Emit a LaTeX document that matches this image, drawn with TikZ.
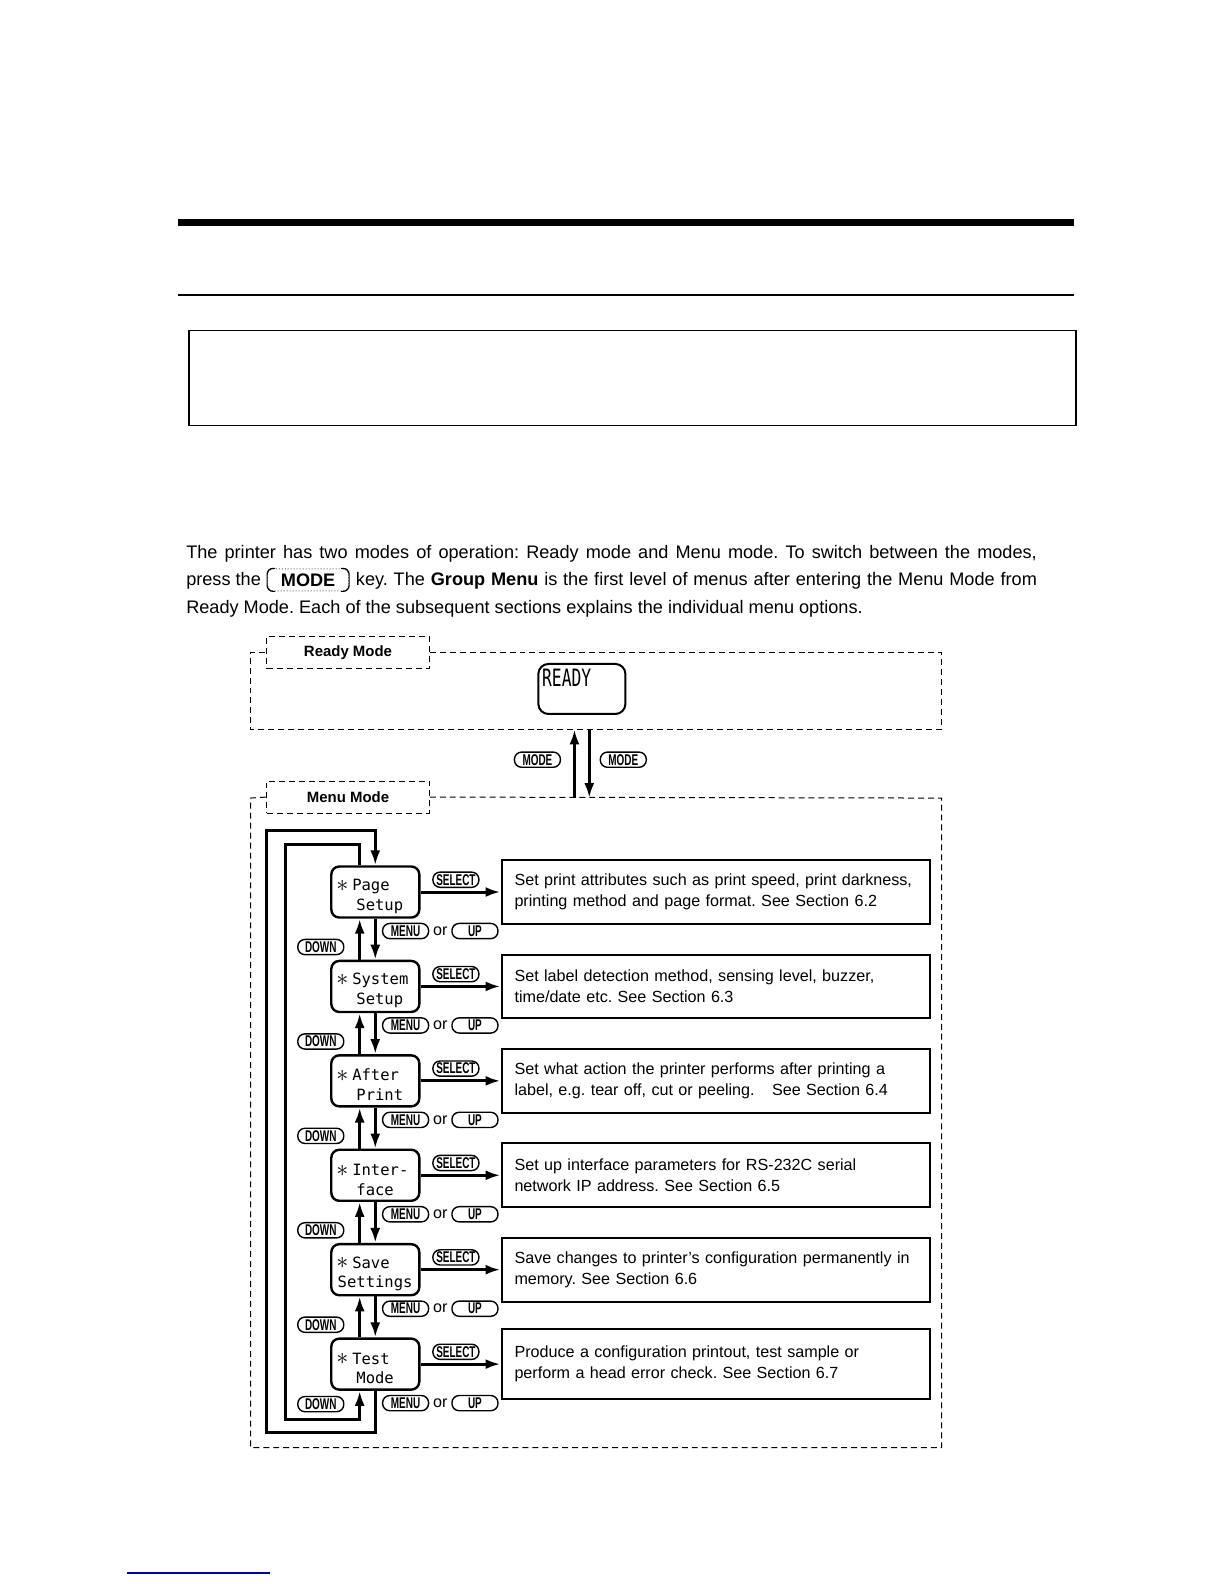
\documentclass[tikz,border=0pt]{standalone}
\usepackage{graphicx}
\usepackage{fontspec}
\setmainfont{Liberation Sans}
\setmonofont{DejaVu Sans Mono}
\usetikzlibrary{positioning, arrows.meta}
\tikzset{
	x=0.505bp, y=-0.505bp, % unidades de pixel
	>={Latex[length=7.5bp,width=5bp]}, % puntas de flecha llenas
	flecha/.style={->, line width=1.5bp}, % flechas gruesas
	lazo/.style={line width=1.5bp}, % lineas de retorno
	marco/.style={densely dashed, line width=0.5bp}, % marcos de modo
	pestana/.style={marco, draw, minimum width=81.3bp, minimum height=16bp, font=\fontsize{7.5}{9}\selectfont\bfseries}, % titulo del modo
	menu/.style={draw, line width=1.2bp, rounded corners=4bp, text width=37.6bp, inner xsep=3.2bp, inner ysep=0pt, minimum height=25.5bp, align=left, font=\fontsize{7.8}{10}\selectfont\ttfamily}, % pantalla del menu
	desc/.style={draw, line width=1bp, text width=201bp, inner xsep=6.5bp, minimum height=31.8bp, align=left, font=\fontsize{8.1}{10.6}\selectfont}, % explicacion
	tecla/.style={draw, rectangle, rounded corners=3.6bp, line width=0.7bp, minimum width=23bp, minimum height=7.6bp, inner sep=0.3bp, font=\fontsize{7.8}{7.8}\selectfont\bfseries}, % tecla
	otexto/.style={inner sep=1.7bp, font=\fontsize{8.1}{9}\selectfont}, % texto entre teclas
	linea/.style={anchor=base west, inner sep=0pt, font=\parrafo} % renglon del parrafo
}
\newcommand{\tecl}[1]{\scalebox{0.64}[1]{#1}}
\newcommand{\estrella}{\rule{0pt}{10bp}\makebox[4.696bp]{\fontsize{13}{13}\selectfont\raisebox{-0.4bp}{$\ast$}}}
\newcommand{\parrafo}{\fontsize{9.1}{13.6}\selectfont}

\begin{document}
\frenchspacing
\begin{tikzpicture}[node distance=47.2bp]
	\useasboundingbox (0,0) rectangle (1212,1568);
	
	\draw[line width=3.5bp] (176,220) -- (1063,220);
	\draw[line width=1bp] (176,292) -- (1063,292);
	\draw[line width=0.8bp] (187,327) rectangle (1065,421);
	
	\node[linea] (linea1) at (184,553) {\hbox to 425.2bp{The printer has two modes of operation: Ready mode and Menu mode. To switch between the modes,}};
	\node[linea] (linea2) at (184,580) {press the};
	\node[draw=black!60, densely dotted, line width=0.5bp, rounded corners=3bp, minimum width=40.5bp, minimum height=11bp, inner sep=0pt, font=\parrafo\bfseries] (teclamodo) at (305,574) {MODE};
	\draw[line width=0.6bp, rounded corners=3bp] ([xshift=4bp]teclamodo.north west) -- (teclamodo.north west) -- (teclamodo.south west) -- ([xshift=4bp]teclamodo.south west);
	\draw[line width=0.6bp, rounded corners=3bp] ([xshift=-4bp]teclamodo.north east) -- (teclamodo.north east) -- (teclamodo.south east) -- ([xshift=-4bp]teclamodo.south east);
	\node[linea] (linea2b) at (352,580) {\hbox to 340.4bp{key. The \textbf{Group Menu} is the first level of menus after entering the Menu Mode from}};
	\node[linea] (linea3) at (184,607) {Ready Mode. Each of the subsequent sections explains the individual menu options.};
	
	\node[pestana] (ready) at (344.5,646) {Ready Mode};
	\draw[marco] (ready.east) -- (932,646) -- (932,722) -- (248,722) -- (248,646) -- (ready.west);
	\node[draw, line width=1bp, rounded corners=5bp, minimum width=43.5bp, minimum height=25bp] (lcd) at (576,682) {};
	\node[anchor=north west, inner xsep=2.2bp, inner ysep=2.6bp, font=\fontsize{12}{12}\selectfont\ttfamily] (lcdtexto) at (lcd.north west) {\scalebox{0.68}[1]{READY}};
	\coordinate (readyfondo) at (576,722);
	\coordinate (menutope) at (576,790);
	\node[tecla] (modeizq) at (532,752) {\tecl{MODE}};
	\node[tecla] (modeder) at (617,752) {\tecl{MODE}};
	
	\node[pestana] (menumode) at (344.5,789) {Menu Mode};
	\draw[marco] (menumode.east) -- (932,790) -- (932,1433) -- (248,1433) -- (248,790) -- (menumode.west);
	
	\node[menu] (page) at (371.5,883) {\estrella\ Page\\\hphantom{**}Setup};
	\node[menu, below of=page] (system) {\estrella\ System\\\hphantom{**}Setup};
	\node[menu, below of=system] (after) {\estrella\ After\\\hphantom{**}Print};
	\node[menu, below of=after] (inter) {\estrella\ Inter-\\\hphantom{**}face};
	\node[menu, below of=inter] (save) {\estrella\ Save\\Settings};
	\node[menu, below of=save] (test) {\estrella\ Test\\\hphantom{**}Mode};
	
	\node[desc, right=40bp of page] (dpage) {Set print attributes such as print speed, print darkness,\\printing method and page format. See Section 6.2};
	\node[desc, right=40bp of system] (dsystem) {Set label detection method, sensing level, buzzer,\\time/date etc. See Section 6.3};
	\node[desc, right=40bp of after] (dafter) {Set what action the printer performs after printing a\\label, e.g. tear off, cut or peeling.\hspace{6bp} See Section 6.4};
	\node[desc, right=40bp of inter] (dinter) {Set up interface parameters for RS-232C serial\\network IP address. See Section 6.5};
	\node[desc, right=40bp of save] (dsave) {Save changes to printer's configuration permanently in\\memory. See Section 6.6};
	\node[desc, right=40bp of test, minimum height=35bp] (dtest) {Produce a configuration printout, test sample or\\perform a head error check. See Section 6.7\\[2bp]};
	
	\node[tecla, below right=2bp and 3.3bp of page.south] (menupage) {\tecl{MENU}};
	\node[otexto, right=0bp of menupage] (orpage) {or};
	\node[tecla, right=0bp of orpage] (uppage) {\tecl{UP}};
	\node[tecla, below left=10bp and 15.4bp of page.south] (downpage) {\tecl{DOWN}};
	
	\node[tecla, below right=2bp and 3.3bp of system.south] (menusystem) {\tecl{MENU}};
	\node[otexto, right=0bp of menusystem] (orsystem) {or};
	\node[tecla, right=0bp of orsystem] (upsystem) {\tecl{UP}};
	\node[tecla, below left=10bp and 15.4bp of system.south] (downsystem) {\tecl{DOWN}};
	
	\node[tecla, below right=2bp and 3.3bp of after.south] (menuafter) {\tecl{MENU}};
	\node[otexto, right=0bp of menuafter] (orafter) {or};
	\node[tecla, right=0bp of orafter] (upafter) {\tecl{UP}};
	\node[tecla, below left=10bp and 15.4bp of after.south] (downafter) {\tecl{DOWN}};
	
	\node[tecla, below right=2bp and 3.3bp of inter.south] (menuinter) {\tecl{MENU}};
	\node[otexto, right=0bp of menuinter] (orinter) {or};
	\node[tecla, right=0bp of orinter] (upinter) {\tecl{UP}};
	\node[tecla, below left=10bp and 15.4bp of inter.south] (downinter) {\tecl{DOWN}};
	
	\node[tecla, below right=2bp and 3.3bp of save.south] (menusave) {\tecl{MENU}};
	\node[otexto, right=0bp of menusave] (orsave) {or};
	\node[tecla, right=0bp of orsave] (upsave) {\tecl{UP}};
	\node[tecla, below left=10bp and 15.4bp of save.south] (downsave) {\tecl{DOWN}};
	
	\node[tecla, below right=2bp and 3.3bp of test.south] (menutest) {\tecl{MENU}};
	\node[otexto, right=0bp of menutest] (ortest) {or};
	\node[tecla, right=0bp of ortest] (uptest) {\tecl{UP}};
	\node[tecla, below left=2.5bp and 15.4bp of test.south] (downtest) {\tecl{DOWN}};
	
	\coordinate (extarriba) at (264,822);
	\coordinate (extabajo) at (264,1418);
	\coordinate (intarriba) at (283,836);
	\coordinate (intabajo) at (283,1405);
	
	\path[every edge/.append style={flecha}]
			([xshift=-3.7bp]menutope) edge ([xshift=-3.7bp]readyfondo)
			([xshift=3.7bp]readyfondo) edge ([xshift=3.7bp]menutope)
			(page) edge node[tecla, above=2bp, xshift=-2.3bp] (selpage) {\tecl{SELECT}} (dpage)
			(system) edge node[tecla, above=2bp, xshift=-2.3bp] (selsystem) {\tecl{SELECT}} (dsystem)
			(after) edge node[tecla, above=2bp, xshift=-2.3bp] (selafter) {\tecl{SELECT}} (dafter)
			(inter) edge node[tecla, above=2bp, xshift=-2.3bp] (selinter) {\tecl{SELECT}} (dinter)
			(save) edge node[tecla, above=2bp, xshift=-2.3bp] (selsave) {\tecl{SELECT}} (dsave)
			(test) edge node[tecla, above=2bp, xshift=-2.3bp] (seltest) {\tecl{SELECT}} (dtest)
			(page.south) edge (system.north)
			(system.south) edge (after.north)
			(after.south) edge (inter.north)
			(inter.south) edge (save.north)
			(save.south) edge (test.north)
			([xshift=-7.8bp]system.north) edge ([xshift=-7.8bp]page.south)
			([xshift=-7.8bp]after.north) edge ([xshift=-7.8bp]system.south)
			([xshift=-7.8bp]inter.north) edge ([xshift=-7.8bp]after.south)
			([xshift=-7.8bp]save.north) edge ([xshift=-7.8bp]inter.south)
			([xshift=-7.8bp]test.north) edge ([xshift=-7.8bp]save.south);
	
	\draw[lazo, ->] (test.south) |- (extabajo) |- (extarriba -| page.north) -- (page.north);
	\draw[lazo, ->] ([xshift=-7.8bp]page.north) |- (intarriba) |- ([xshift=-7.8bp]test.south |- intabajo) -- ([xshift=-7.8bp]test.south);
	
	\draw[blue!65!black, line width=0.8bp] (126,1557) -- (267,1557);
\end{tikzpicture}
\end{document}
